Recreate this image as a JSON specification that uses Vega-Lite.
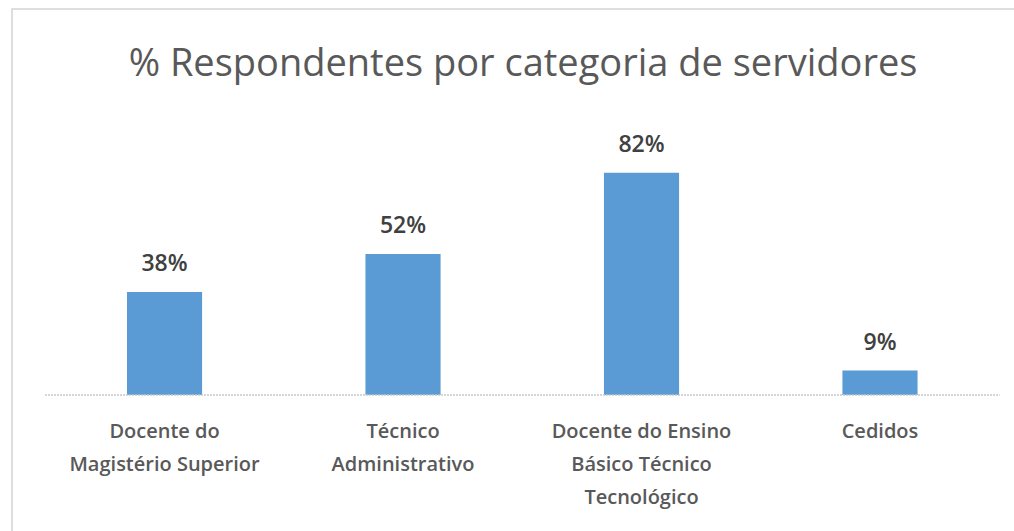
{
  "$schema": "https://vega.github.io/schema/vega-lite/v6.json",
  "autosize": "none",
  "width": 1010,
  "height": 530,
  "padding": {"left": 12, "top": 9, "right": 0, "bottom": 0},
  "background": "white",
  "title": {
    "text": "% Respondentes por categoria de servidores",
    "font": "Open Sans",
    "fontSize": 38,
    "fontWeight": "normal",
    "color": "#595959",
    "anchor": "middle",
    "frame": "group",
    "baseline": "alphabetic",
    "offset": 0,
    "dy": 105,
    "dx": 6
  },
  "datasets": {
    "bars": [
      {"categoria": "Docente do|Magistério Superior", "pct": 0.38},
      {"categoria": "Técnico|Administrativo", "pct": 0.52},
      {"categoria": "Docente do Ensino|Básico Técnico|Tecnológico", "pct": 0.82},
      {"categoria": "Cedidos", "pct": 0.09}
    ],
    "baseline": [
      {"start": 0.0327, "end": 0.978, "value": 0}
    ]
  },
  "layer": [
    {
      "data": {"name": "bars"},
      "encoding": {
        "x": {
          "field": "categoria",
          "type": "nominal",
          "sort": null,
          "scale": {"paddingInner": 0.685, "paddingOuter": 0.46, "align": 0.524},
          "axis": {
            "title": null,
            "orient": "bottom",
            "offset": -144,
            "labelAngle": 0,
            "labelExpr": "split(datum.value, '|')",
            "labelFont": "Open Sans",
            "labelFontSize": 20,
            "labelFontWeight": 600,
            "labelColor": "#595959",
            "labelLineHeight": 33,
            "labelPadding": 26,
            "labelLimit": 0,
            "labelBaseline": "top",
            "ticks": false,
            "domain": false,
            "grid": false
          }
        },
        "y": {
          "field": "pct",
          "type": "quantitative",
          "scale": {"domain": [-0.5314, 1.4244], "zero": false, "nice": false},
          "axis": null
        }
      },
      "layer": [
        {"mark": {"type": "bar", "color": "#5b9bd5", "y2": {"expr": "scale('y', 0)"}}},
        {
          "mark": {"type": "text", "baseline": "alphabetic", "dy": -21, "font": "Open Sans", "fontSize": 23, "fontWeight": 600, "color": "#404040"},
          "encoding": {"text": {"field": "pct", "type": "quantitative", "format": ".0%"}}
        }
      ]
    },
    {
      "data": {"name": "baseline"},
      "mark": {"type": "rule", "color": "#c8c8c8", "strokeWidth": 1.5, "strokeDash": [2, 1]},
      "encoding": {
        "x": {"field": "start", "type": "quantitative", "scale": {"domain": [0, 1], "nice": false, "zero": false}, "axis": null},
        "x2": {"field": "end"},
        "y": {"field": "value", "type": "quantitative", "scale": {"domain": [-0.5314, 1.4244], "zero": false, "nice": false}, "axis": null}
      }
    }
  ],
  "resolve": {"scale": {"x": "independent"}, "axis": {"x": "independent"}},
  "config": {"view": {"stroke": "#d4d4d4", "strokeWidth": 1.5}}
}
